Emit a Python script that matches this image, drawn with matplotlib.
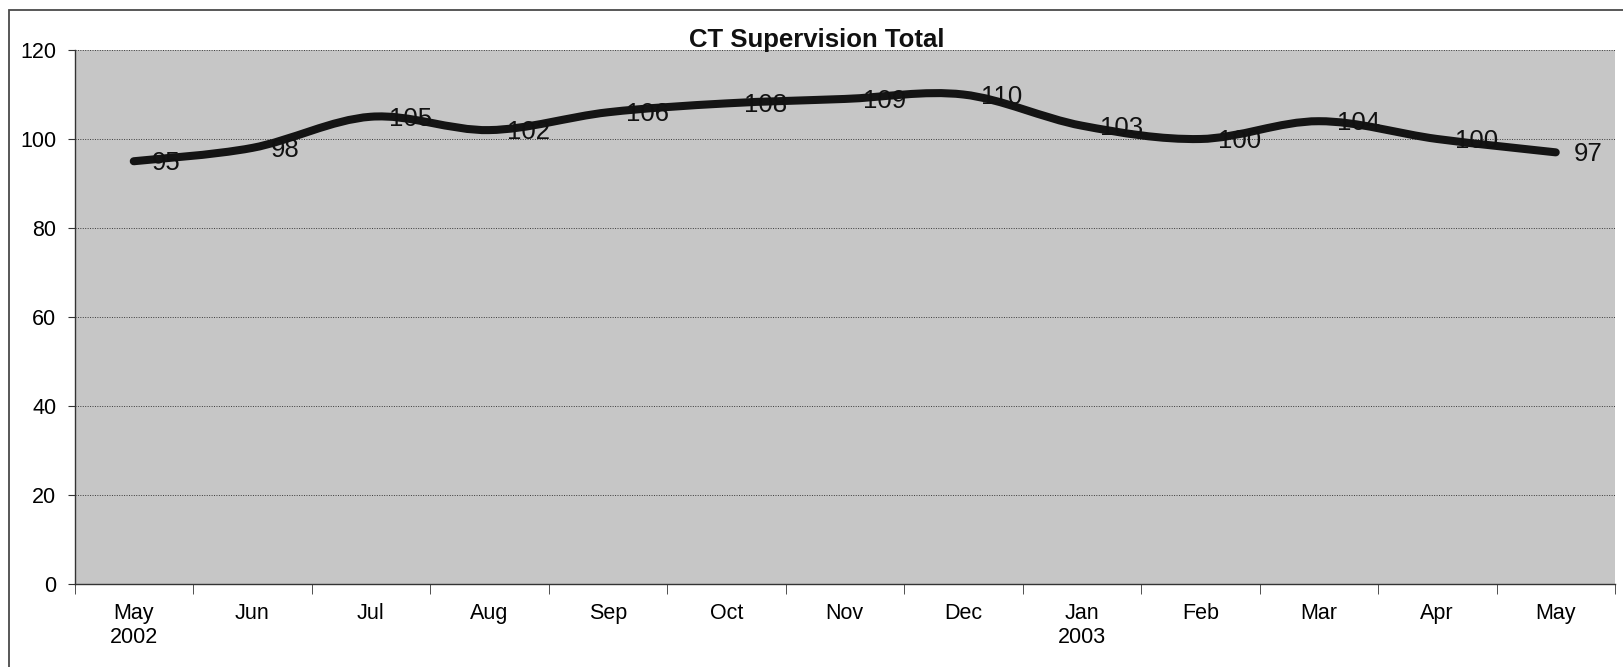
import matplotlib
matplotlib.use('Agg')
import matplotlib.pyplot as plt
import numpy as np
from matplotlib.path import Path
from matplotlib.patches import PathPatch, Rectangle

plt.rcParams['font.family'] = ['Liberation Sans', 'DejaVu Sans']

months = ['May', 'Jun', 'Jul', 'Aug', 'Sep', 'Oct', 'Nov', 'Dec',
          'Jan', 'Feb', 'Mar', 'Apr', 'May']
years = {0: '2002', 8: '2003'}
totals = [95, 98, 105, 102, 106, 108, 109, 110, 103, 100, 104, 100, 97]

W, H = 1623, 667
fig = plt.figure(figsize=(W / 100, H / 100), dpi=100)
fig.patch.set_facecolor('white')

# outer chart frame (scanned page shows only top/left edges)
fig.add_artist(Rectangle((8.5 / W, -0.05), 1.2, 1 - 9.5 / H + 0.05,
                         transform=fig.transFigure, fill=False,
                         edgecolor='#4a4a4a', lw=1.3))

ax = fig.add_axes([74.5 / W, (H - 584) / H, (1615 - 74.5) / W, (584 - 50) / H])
ax.set_facecolor('#c6c6c6')
ax.set_xlim(-0.5, len(months) - 0.5)
ax.set_ylim(0, 120)

ax.set_yticks(range(0, 121, 20))
ax.grid(axis='y', color='#3a3a3a', linestyle=(0, (1, 1.5)), lw=0.7)
ax.set_axisbelow(True)

labels = [m + ('\n' + years[i] if i in years else '') for i, m in enumerate(months)]
ax.set_xticks(range(len(months)))
ax.set_xticklabels(labels, linespacing=1.15, va='top')
ax.set_xticks(np.arange(-0.5, len(months), 1), minor=True)
ax.tick_params(axis='x', which='major', length=0, pad=14, labelsize=15.5)
ax.tick_params(axis='x', which='minor', length=7, direction='out', color='#333333')
ax.tick_params(axis='y', length=5, direction='out', pad=8, labelsize=15.5, color='#333333')

for s in ['top', 'right']:
    ax.spines[s].set_visible(False)
for s in ['left', 'bottom']:
    ax.spines[s].set_color('#333333')
    ax.spines[s].set_linewidth(1.0)

# smoothed line like Excel (bezier through each point)
x = list(range(len(totals)))
pts = list(zip(x, totals))
verts = [pts[0]]
codes = [Path.MOVETO]
for i in range(len(pts) - 1):
    p0 = pts[max(i - 1, 0)]
    p1 = pts[i]
    p2 = pts[i + 1]
    p3 = pts[min(i + 2, len(pts) - 1)]
    c1 = (p1[0] + (p2[0] - p0[0]) / 6, p1[1] + (p2[1] - p0[1]) / 6)
    c2 = (p2[0] - (p3[0] - p1[0]) / 6, p2[1] - (p3[1] - p1[1]) / 6)
    verts += [c1, c2, p2]
    codes += [Path.CURVE4] * 3
ax.add_patch(PathPatch(Path(verts, codes), fill=False, edgecolor='#141414',
                       lw=5.8, capstyle='round', joinstyle='round', zorder=3))

for i, v in enumerate(totals):
    ax.annotate(str(v), (i, v), xytext=(13, -6.5), textcoords='offset points',
                ha='left', va='baseline', fontsize=18.5, color='#111111', zorder=4)

fig.text(817 / W, 1 - 40 / H, 'CT Supervision Total', ha='center', va='center',
         fontsize=18.5, fontweight='bold', color='#111111')

fig.savefig('out.png', dpi=100)
